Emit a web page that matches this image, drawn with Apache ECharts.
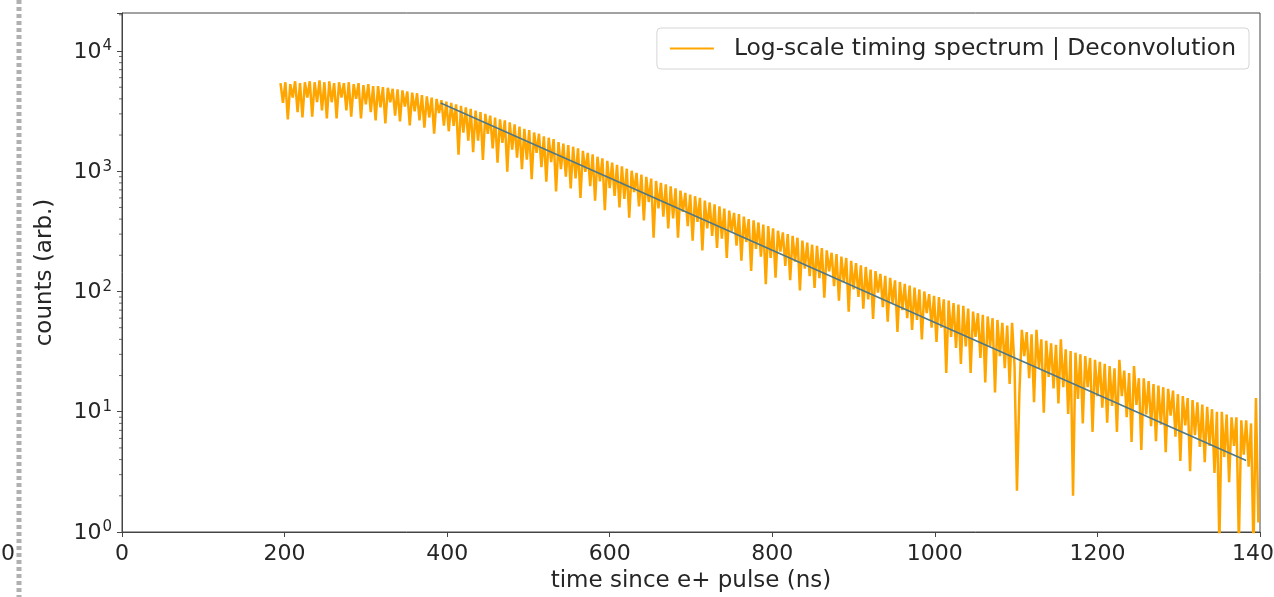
<!DOCTYPE html>
<html>
<head>
<meta charset="utf-8">
<script src="https://cdn.jsdelivr.net/npm/echarts@6/dist/echarts.min.js"></script>
<style>
html,body{margin:0;padding:0;background:#fff;}
#chart{width:1274px;height:597px;}
</style>
</head>
<body>
<div id="chart"></div>
<script>
// ---- data ----
const seriesName = 'Log-scale timing spectrum | Deconvolution';
const xTickValues = [0, 200, 400, 600, 800, 1000, 1200, 1400];
const yMinorTickValues = [2,3,4,5,6,7,8,9,20,30,40,50,60,70,80,90,200,300,400,500,600,700,800,900,
  2000,3000,4000,5000,6000,7000,8000,9000,20000];

// timing bins: first bin 195 ns, 3 ns wide
const binStartNs = 195;
const binWidthNs = 3;
const spectrumCounts = [
  5400,3700,5500,2700,5300,4100,5600,3100,5400,2800,
  5500,4100,5600,2850,5500,3750,5700,3200,5500,2750,
  5600,3750,5400,2750,5500,4100,5400,3200,5500,2850,
  5300,4000,5400,2750,5200,3600,5300,3100,5100,2650,
  5100,3400,5000,2500,4950,3750,4850,2900,4800,2600,
  4700,3450,4600,2400,4500,3150,4450,2650,4300,2300,
  4200,2800,4100,2050,4000,3050,3900,2400,3800,2150,
  3700,2380,3600,1370,3500,2090,3400,1800,3300,1440,
  3200,1800,3100,1240,3000,2050,2900,1550,2800,1180,
  2700,1720,2650,990,2550,1510,2450,1300,2350,1040,
  2250,1250,2200,860,2100,1420,2050,1080,1950,820,
  1900,1190,1850,680,1750,1040,1700,900,1650,720,
  1600,870,1550,600,1480,990,1420,750,1380,570,
  1320,825,1280,475,1220,725,1180,625,1130,500,
  1100,590,1050,410,1010,670,970,510,940,390,
  900,555,870,280,830,490,800,420,780,335,
  750,405,720,280,690,460,660,350,640,265,
  620,380,600,220,570,335,550,290,530,230,
  510,275,490,190,470,315,450,240,440,180,
  420,258,400,148,390,226,375,195,360,115,
  350,190,335,130,320,215,310,163,300,124,
  290,177,280,102,265,155,255,134,245,107,
  240,129,230,89,220,147,210,111,205,84,
  195,119,190,68,180,104,172,90,165,72,
  160,86,152,59,148,98,140,74,135,56,
  130,80,124,46,120,70,116,60,112,48,
  108,58,104,40,100,66,95,50,92,38,
  90,50,86,21,84,42,80,34,78,25,
  76,35,72,21,68,42,66,28,64,17.5,
  62,35,60,14.5,58,29,55,23,52,17,
  55,24,2.2,14.4,48,29,46,19,44,12,
  48,23,40,9.8,39,19.5,37,15.6,36,11.7,
  40,16,33,9.6,32,2.0,31,12.8,30,8,
  29,16,28,6.8,27,13.5,26,10.8,25,8.1,
  24,11.2,23,6.8,27,13.5,22,9,21,5.6,
  24,11.4,19,4.8,19,9.5,18,7.6,17,5.7,
  16.5,7.8,16,4.6,15.5,9.3,15,6.2,14,3.9,
  13.5,7.7,13,3.2,12.5,6.4,12,5.1,11.5,3.8,
  11,5.2,10.5,3.1,10,0.8,10,4.2,9.5,2.6,
  9,5.2,9,0.8,8.5,4.4,8.5,3.5,8,0.7,
  13,1.2];

const fitTime = [392, 600, 800, 1000, 1200, 1383];
const fitCounts = [3690, 877, 220, 55.3, 13.9, 3.93];

// ---- build chart ----
const FONT = 'DejaVu Sans';
const TXT = '#262626';
const AX = '#444';

const spectrumData = spectrumCounts.map((c, i) => [binStartNs + i * binWidthNs, c]);
const fitData = fitTime.map((t, i) => [t, fitCounts[i]]);
const minorData = yMinorTickValues.map(v => [0, v]);

const chart = echarts.init(document.getElementById('chart'), null, {renderer: 'canvas'});
chart.setOption({
  animation: false,
  backgroundColor: '#fff',
  textStyle: {fontFamily: FONT, color: TXT},
  grid: {left: 122, right: 14, top: 13, bottom: 65, show: true, borderColor: AX, borderWidth: 1,
         containLabel: false, outerBoundsMode: 'none'},
  legend: {
    data: [seriesName],
    right: 25, top: 28,
    orient: 'horizontal',
    icon: 'rect',
    itemWidth: 44, itemHeight: 2,
    padding: [9, 13, 9, 13],
    borderColor: '#d5d5d5', borderWidth: 1, borderRadius: 4,
    backgroundColor: 'rgba(255,255,255,0.85)',
    textStyle: {fontFamily: FONT, fontSize: 23.4, color: TXT, padding: [0, 0, 0, 15]},
    selectedMode: false
  },
  xAxis: {
    type: 'value', min: 0, max: 1400, interval: 200,
    name: 'time since e+ pulse (ns)', nameLocation: 'middle', nameGap: 38,
    nameTextStyle: {fontFamily: FONT, fontSize: 23, color: TXT},
    axisLine: {show: true, onZero: false, lineStyle: {color: AX, width: 1}},
    axisTick: {show: true, length: 5, inside: false, lineStyle: {color: AX, width: 1}},
    axisLabel: {show: true, margin: 11, fontFamily: FONT, fontSize: 22, color: TXT,
      showMinLabel: true, showMaxLabel: true, hideOverlap: false,
      formatter: v => (xTickValues.indexOf(v) >= 0 ? String(v) : '')},
    splitLine: {show: false}
  },
  yAxis: {
    type: 'log', logBase: 10, min: 1, max: 20700,
    name: 'counts (arb.)', nameLocation: 'middle', nameGap: 65, nameRotate: 90,
    nameTextStyle: {fontFamily: FONT, fontSize: 23, color: TXT},
    axisLine: {show: true, lineStyle: {color: AX, width: 1}},
    axisTick: {show: true, length: 5, lineStyle: {color: AX, width: 1}},
    splitLine: {show: false},
    axisLabel: {
      show: true, margin: 10, color: TXT, showMaxLabel: true, hideOverlap: false,
      formatter: function (v) {
        const e = Math.log10(v);
        if (Math.abs(e - Math.round(e)) > 1e-6) return '';
        return '{b|10}{e|' + Math.round(e) + '}';
      },
      rich: {
        b: {fontFamily: FONT, fontSize: 22, color: TXT, verticalAlign: 'bottom', lineHeight: 24, padding: [6, 0, 0, 0]},
        e: {fontFamily: FONT, fontSize: 15, color: TXT, verticalAlign: 'top', lineHeight: 24, padding: [0, 0, 6, 1]}
      }
    }
  },
  series: [
    {
      name: seriesName, type: 'line', data: spectrumData,
      symbol: 'none', showSymbol: false, smooth: false, sampling: null,
      lineStyle: {color: '#ffa500', width: 2.5, join: 'bevel'},
      itemStyle: {color: '#ffa500'},
      clip: true, z: 2
    },
    {
      name: 'fit', type: 'line', data: fitData,
      symbol: 'none', showSymbol: false,
      lineStyle: {color: '#4d7888', width: 1.6},
      itemStyle: {color: '#4d7888'},
      clip: true, z: 3
    },
    {
      name: 'minorTicks', type: 'custom', data: minorData, silent: true, clip: false, z: 5,
      renderItem: function (params, api) {
        const p = api.coord([api.value(0), api.value(1)]);
        return {type: 'line', shape: {x1: p[0] - 3, y1: p[1], x2: p[0], y2: p[1]},
                style: {stroke: AX, lineWidth: 0.8}};
      }
    }
  ],
  graphic: [
    {type: 'line', shape: {x1: 19, y1: 0, x2: 19, y2: 597},
     style: {stroke: '#b0b0b0', lineWidth: 5, lineDash: [4, 3]}},
    {type: 'text', left: 1, top: 543,
     style: {text: '0', font: '22px "DejaVu Sans"', fill: TXT}}
  ]
});
</script>
</body>
</html>
